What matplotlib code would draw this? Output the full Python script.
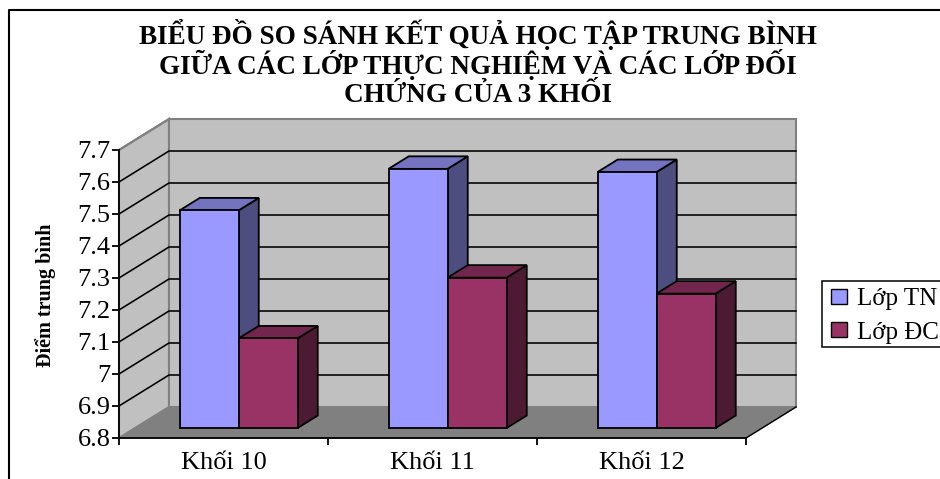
import matplotlib
matplotlib.use('Agg')
import matplotlib.pyplot as plt
from matplotlib.patches import Polygon, Rectangle, Patch
from matplotlib.lines import Line2D

plt.rcParams['font.family'] = ['Liberation Serif', 'DejaVu Serif']

groups = ['Khối 10', 'Khối 11', 'Khối 12']
lop_tn = [7.48, 7.61, 7.60]
lop_dc = [7.08, 7.27, 7.22]
y_ticks = [6.8, 6.9, 7.0, 7.1, 7.2, 7.3, 7.4, 7.5, 7.6, 7.7]
y_labels = ['6.8', '6.9', '7', '7.1', '7.2', '7.3', '7.4', '7.5', '7.6', '7.7']
title_lines = ['BIỂU ĐỒ SO SÁNH KẾT QUẢ HỌC TẬP TRUNG BÌNH',
               'GIỮA CÁC LỚP THỰC NGHIỆM VÀ CÁC LỚP ĐỐI',
               'CHỨNG CỦA 3 KHỐI']

W, H = 940, 479
# fake 3d: how far the back wall is shifted from the front plane, in data units
DX = 50 / 209
DY = 31 / 320
bar_w = 59 / 209
bar_shift = -1 / 209
d_front = 0.32
d_back = 0.725
y0 = y_ticks[0]
y1 = y_ticks[-1]


def p(x, y, d=0.0):
    return (x + d * DX, y + d * DY)


def face(ax, pts, color, edge='black', lw=1.3, z=1):
    ax.add_patch(Polygon(pts, closed=True, facecolor=color, edgecolor=edge,
                         linewidth=lw, zorder=z, clip_on=False,
                         joinstyle='miter'))


def bar3d(ax, left, val, cols, z):
    right = left + bar_w
    # side, top, front
    face(ax, [p(right, y0, d_front), p(right, y0, d_back), p(right, val, d_back), p(right, val, d_front)], cols[2], z=z)
    face(ax, [p(left, val, d_front), p(right, val, d_front), p(right, val, d_back), p(left, val, d_back)], cols[1], z=z)
    face(ax, [p(left, y0, d_front), p(right, y0, d_front), p(right, val, d_front), p(left, val, d_front)], cols[0], z=z)


fig = plt.figure(figsize=(W / 100, H / 100), dpi=100)
ax = fig.add_axes([119 / W, 1 - 438 / H, 627 / W, 288 / H])
ax.set_xlim(0, 3)
ax.set_ylim(y0, y1)
ax.patch.set_visible(False)

wall = '#C0C0C0'
# walls and floor
face(ax, [p(0, y0), p(0, y1), p(0, y1, 1), p(0, y0, 1)], wall, edge='#808080', lw=1.5, z=1)
face(ax, [p(0, y0, 1), p(3, y0, 1), p(3, y1, 1), p(0, y1, 1)], wall, edge='#808080', lw=1.5, z=1)
face(ax, [p(0, y0), p(3, y0), p(3, y0, 1), p(0, y0, 1)], '#808080', edge='#808080', lw=1, z=2)
ax.plot(*zip(p(3, y0), p(3, y0, 1)), color='black', lw=1, zorder=3, clip_on=False)

# gridlines run along the side wall and then along the back wall
for v in y_ticks[1:-1]:
    ax.plot(*zip(p(0, v), p(0, v, 1), p(3, v, 1)), color='black', lw=1.15, zorder=3, clip_on=False)
ax.plot(*zip(p(0, y1, 1), p(0, y1)), color='#808080', lw=1.5, zorder=3, clip_on=False)

tn_cols = ['#9999FF', '#7373BF', '#4D4D80']
dc_cols = ['#993366', '#73264D', '#4D1A33']
for i in range(len(groups)):
    bar3d(ax, i + 0.5 - bar_w + bar_shift, lop_tn[i], tn_cols, 5 + i)
    bar3d(ax, i + 0.5 + bar_shift, lop_dc[i], dc_cols, 5 + i + 0.5)

for s in ['top', 'right']:
    ax.spines[s].set_visible(False)
ax.spines['left'].set_linewidth(1.3)
ax.spines['bottom'].set_linewidth(1.3)
ax.spines['left'].set_zorder(20)
ax.spines['bottom'].set_zorder(20)

ax.set_yticks(y_ticks)
ax.set_yticklabels(y_labels, fontsize=19)
ax.tick_params(axis='y', length=5, width=1.3, pad=1)
ax.set_xticks([0, 1, 2, 3])
ax.set_xticklabels([])
ax.tick_params(axis='x', which='major', length=5, width=1.3)
ax.set_xticks([0.5, 1.5, 2.5], minor=True)
ax.set_xticklabels(groups, minor=True, fontsize=19)
ax.tick_params(axis='x', which='minor', length=0, pad=10)

fig.text(46 / W, 1 - 295 / H, 'Điểm trung bình', rotation=90, fontsize=14.5,
         fontweight='bold', ha='center', va='center')
# separate texts keep the line spacing even despite the accents
for line, y in zip(title_lines, [31, 62, 92]):
    fig.text(478 / W, 1 - y / H, line, fontsize=19.5, fontweight='bold',
             ha='center', va='center_baseline')

# outer frame, open to the right and bottom
fig.add_artist(Line2D([9 / W, 9 / W, 1], [0, 1 - 10 / H, 1 - 10 / H], color='black', lw=1.5))

# legend box runs past the edge of the figure
fig.add_artist(Rectangle((822 / W, 1 - 347 / H), 130 / W, 66 / H, facecolor='white',
                         edgecolor='black', lw=1.1, transform=fig.transFigure))
handles = [Patch(facecolor=tn_cols[0], edgecolor='black', label='Lớp TN'),
           Patch(facecolor=dc_cols[0], edgecolor='black', label='Lớp ĐC')]
leg = fig.legend(handles=handles, loc='center left', bbox_to_anchor=(831 / W, 1 - 316 / H),
                 frameon=False, fontsize=18, handlelength=0.64, handleheight=0.52,
                 handletextpad=0.4, labelspacing=0.45, borderpad=0, borderaxespad=0)

fig.savefig('out.png', dpi=100)
